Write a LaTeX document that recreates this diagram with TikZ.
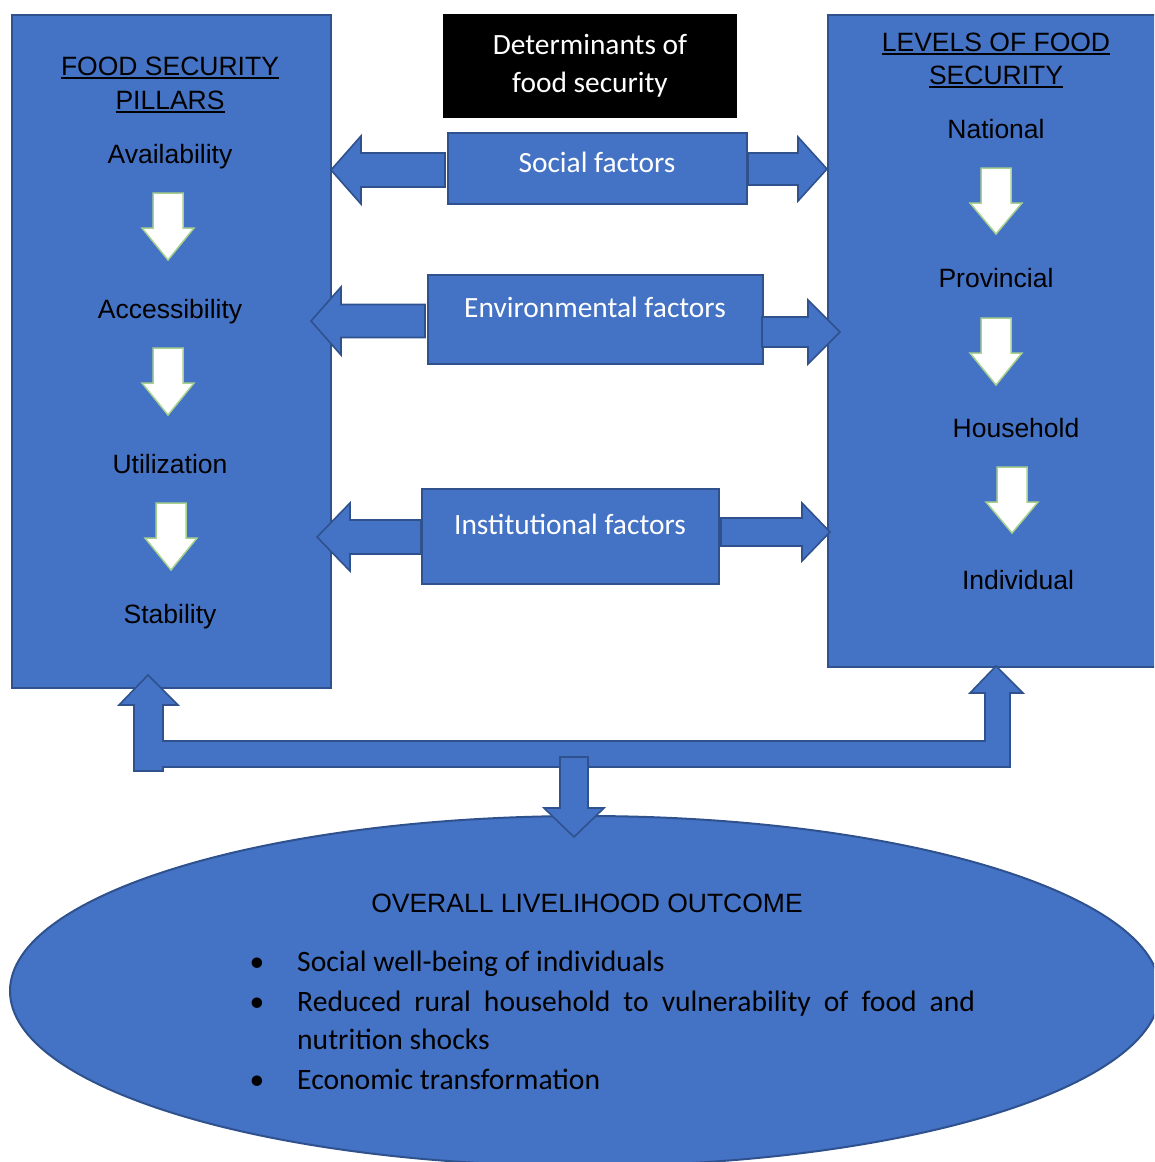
\documentclass[tikz,border=0pt]{standalone}
\usepackage{fontspec}
\setmainfont{Liberation Sans}
\newfontfamily\calfont{Carlito}
\usetikzlibrary{shapes.geometric}
\definecolor{bfill}{HTML}{4472C4}
\definecolor{bline}{HTML}{2F528F}
\definecolor{gline}{HTML}{A9D18E}
\newcommand{\ulx}[1]{\setbox0\hbox{#1}\rlap{\rule[-3.5pt]{\wd0}{1.8pt}}\box0}
% horizontal block arrow: start x, tip x, centre y, shaft half, head half, signed head length
\newcommand{\harrow}[6]{%
  \draw[barrow] (#1,{#3-(#4)}) -- ({#2-(#6)},{#3-(#4)}) -- ({#2-(#6)},{#3-(#5)}) -- (#2,#3)
    -- ({#2-(#6)},{#3+(#5)}) -- ({#2-(#6)},{#3+(#4)}) -- (#1,{#3+(#4)}) -- cycle;}
% white down arrow: centre x, top y, head base y, tip y, shaft half, head half
\newcommand{\varrow}[6]{%
  \draw[warrow] ({#1-(#5)},#2) -- ({#1+(#5)},#2) -- ({#1+(#5)},#3) -- ({#1+(#6)},#3) -- (#1,#4)
    -- ({#1-(#6)},#3) -- ({#1-(#5)},#3) -- cycle;}
\tikzset{
  blk/.style={draw=bline, fill=bfill, line width=2pt, inner sep=0pt, anchor=north west},
  barrow/.style={draw=bline, fill=bfill, line width=1.6pt, line join=miter},
  warrow/.style={draw=gline, fill=white, line width=1.5pt, line join=miter},
  lab/.style={font=\fontsize{26.5}{30}\selectfont, inner sep=0pt, anchor=base},
  flab/.style={font=\calfont\fontsize{29.4}{34}\selectfont, text=white, inner sep=0pt, anchor=base},
  blab/.style={font=\calfont\fontsize{29.6}{34}\selectfont, inner sep=0pt, anchor=base west},
}
\begin{document}
\begin{tikzpicture}[x=1pt, y=-1pt]
\useasboundingbox (0,0) rectangle (1154,1162);
\clip (0,0) rectangle (1154,1162);
% main boxes
\node[blk, minimum width=319pt, minimum height=673pt] (pil) at (11,14) {};
\node[blk, minimum width=360pt, minimum height=652pt] (lev) at (827,14) {};
\node[fill=black, inner sep=0pt, anchor=north west, minimum width=294pt, minimum height=104pt] (det) at (443,14) {};
\node[blk, minimum width=299pt, minimum height=71pt] (soc) at (447,132) {};
\node[blk, minimum width=335pt, minimum height=89pt] (env) at (427,274) {};
\node[blk, minimum width=297pt, minimum height=95pt] (ins) at (421,488) {};
% determinants text
\node[flab] (d1) at (590,54.5) {Determinants of};
\node[flab] (d2) at (590,92.5) {food security};
% factor labels
\node[flab] (tsoc) at (597,172.5) {Social factors};
\node[flab] (tenv) at (595,317.5) {Environmental factors};
\node[flab] (tins) at (570,534.5) {Institutional factors};
% block arrows between factors and boxes
\harrow{445}{331}{170}{17}{34}{-30}
\harrow{748}{827}{169}{16}{32}{29}
\harrow{425}{311}{321}{16.5}{34}{-30}
\harrow{762}{840}{332}{15}{32}{32}
\harrow{421}{317}{537}{17}{34}{-33}
\harrow{721}{830}{532}{14}{29}{28}
% left box texts
\node[lab] (p0a) at (170,75.5) {\ulx{FOOD SECURITY}};
\node[lab] (p0b) at (170,109.5) {\ulx{PILLARS}};
\node[lab] (p1) at (170,163.5) {Availability};
\node[lab] (p2) at (170,318.5) {Accessibility};
\node[lab] (p3) at (170,473.5) {Utilization};
\node[lab] (p4) at (170,623.5) {Stability};
\varrow{168}{193}{228}{260}{15}{26}
\varrow{168}{348}{383}{415}{15}{26}
\varrow{171}{503}{538}{570}{15}{26}
% right box texts
\node[lab] (l0a) at (996,51.5) {\ulx{LEVELS OF FOOD}};
\node[lab] (l0b) at (996,84.5) {\ulx{SECURITY}};
\node[lab] (l1) at (996,138.5) {National};
\node[lab] (l2) at (996,287.5) {Provincial};
\node[lab] (l3) at (1016,437.5) {Household};
\node[lab] (l4) at (1018,589.5) {Individual};
\varrow{996}{168}{203}{234}{15}{26}
\varrow{996}{318}{353}{385}{15}{26}
\varrow{1012}{467}{502}{533}{15}{26}
% outcome ellipse
\node[ellipse, draw=bline, fill=bfill, line width=2pt, minimum width=1150pt, minimum height=350pt, inner sep=0pt] (out) at (585,991) {};
% bottom connector
\draw[barrow] (134,771) -- (134,705) -- (119,705) -- (148,675) -- (178,705) -- (163,705) -- (163,741)
  -- (985,741) -- (985,693) -- (970,693) -- (996,666) -- (1023,693) -- (1010,693) -- (1010,767)
  -- (163,767) -- (163,771) -- cycle;
\draw[barrow] (560,757) -- (588,757) -- (588,808) -- (604,808) -- (574,837) -- (544,808) -- (560,808) -- cycle;
% outcome text
\node[lab] (o0) at (587,912.5) {OVERALL LIVELIHOOD OUTCOME};
\node[blab, anchor=base] (b1) at (257,971) {\textbullet};
\node[blab, anchor=base] (b2) at (257,1011) {\textbullet};
\node[blab, anchor=base] (b3) at (257,1089) {\textbullet};
\node[blab] (o1) at (297,971) {Social well-being of individuals};
\node[blab] (o2) at (297,1011) {\makebox[678pt][s]{Reduced rural household to vulnerability of food and}};
\node[blab] (o2b) at (297,1049) {nutrition shocks};
\node[blab] (o3) at (297,1089) {Economic transformation};
\end{tikzpicture}
\end{document}
